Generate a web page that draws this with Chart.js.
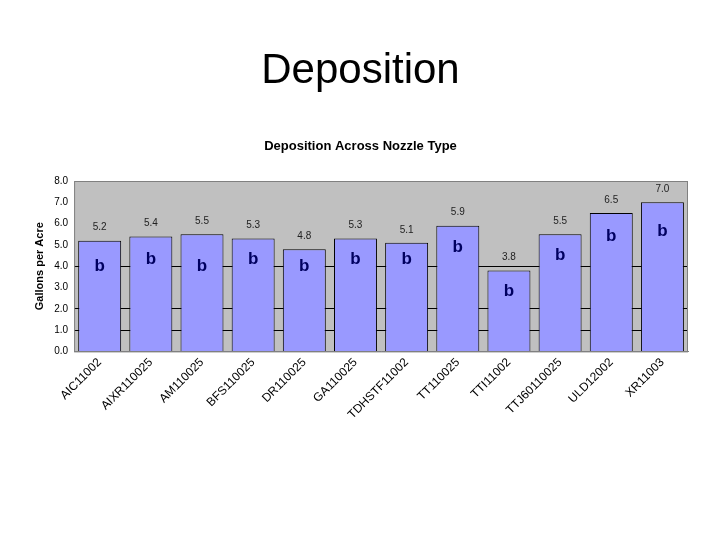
<!DOCTYPE html>
<html>
<head>
<meta charset="utf-8">
<script src="https://cdn.jsdelivr.net/npm/chart.js@4"></script>
<style>
  body { margin: 0; background: #fff; }
  #wrap { width: 720px; height: 540px; }
</style>
</head>
<body>
<div id="wrap"><canvas id="c"></canvas></div>
<script>
// nozzle types and mean deposition
const nozzles = ["AIC11002", "AIXR110025", "AM110025", "BFS110025", "DR110025", "GA110025",
  "TDHSTF11002", "TT110025", "TTI11002", "TTJ60110025", "ULD12002", "XR11003"];
const deposition = [5.2, 5.4, 5.5, 5.3, 4.8, 5.3, 5.1, 5.9, 3.8, 5.5, 6.5, 7.0];
// significance letters and the height (in gallons) they sit at inside the bars
const letters = ["b", "b", "b", "b", "b", "b", "b", "b", "b", "b", "b", "b"];
const letterAt = [4.0, 4.3, 4.0, 4.3, 4.0, 4.3, 4.3, 4.9, 2.8, 4.5, 5.4, 5.65];
const gridAt = [1, 2, 4];

const plotBg = {
  id: "plotBg",
  beforeDraw(chart) {
    const { ctx, chartArea: a } = chart;
    ctx.save();
    ctx.fillStyle = "#c0c0c0";
    ctx.fillRect(a.left, a.top, a.right - a.left, a.bottom - a.top);
    ctx.restore();
  },
  afterDatasetsDraw(chart) {
    const { ctx, chartArea: a } = chart;
    ctx.save();
    ctx.strokeStyle = "#808080";
    ctx.lineWidth = 1;
    ctx.strokeRect(a.left + 0.5, a.top + 0.5, a.right - a.left - 1, a.bottom - a.top);
    ctx.restore();
  }
};

const barText = {
  id: "barText",
  afterDatasetsDraw(chart) {
    const { ctx } = chart;
    const y = chart.scales.y;
    const meta = chart.getDatasetMeta(0);
    ctx.save();
    ctx.textAlign = "center";
    meta.data.forEach((bar, i) => {
      ctx.fillStyle = "#222";
      ctx.font = "10px 'Liberation Sans', Arial, sans-serif";
      ctx.textBaseline = "bottom";
      ctx.fillText(deposition[i].toFixed(1), bar.x, bar.y - 8);
      ctx.fillStyle = "#000060";
      ctx.font = "bold 17px 'Liberation Sans', Arial, sans-serif";
      ctx.textBaseline = "middle";
      ctx.fillText(letters[i], bar.x, y.getPixelForValue(letterAt[i]));
    });
    ctx.restore();
  }
};

new Chart(document.getElementById("c"), {
  type: "bar",
  data: {
    labels: nozzles,
    datasets: [{
      data: deposition,
      backgroundColor: "#9999ff",
      borderColor: "#000000",
      borderWidth: 1,
      barPercentage: 0.84,
      categoryPercentage: 1.0
    }]
  },
  options: {
    responsive: true,
    maintainAspectRatio: false,
    animation: false,
    layout: { padding: { left: 33, right: 32, top: 46, bottom: 114 } },
    plugins: {
      legend: { display: false },
      tooltip: { enabled: false },
      title: {
        display: true,
        text: "Deposition",
        color: "#000",
        font: { family: "'Liberation Sans', Arial, sans-serif", size: 42, weight: "normal" },
        padding: { top: 0, bottom: 42 }
      },
      subtitle: {
        display: true,
        text: "Deposition Across Nozzle Type",
        color: "#000",
        font: { family: "'Liberation Sans', Arial, sans-serif", size: 13, weight: "bold" },
        padding: { top: 0, bottom: 27 }
      }
    },
    scales: {
      x: {
        grid: { display: false, drawTicks: false },
        border: { color: "#808080" },
        ticks: {
          color: "#000",
          minRotation: 45,
          maxRotation: 45,
          padding: 4,
          font: { family: "'Liberation Sans', Arial, sans-serif", size: 12 }
        }
      },
      y: {
        min: 0,
        max: 8,
        grid: {
          drawTicks: false,
          color: ctx => gridAt.includes(ctx.tick && ctx.tick.value) ? "#000" : "rgba(0,0,0,0)"
        },
        border: { display: false },
        title: {
          display: true,
          text: "Gallons per Acre",
          color: "#000",
          font: { family: "'Liberation Sans', Arial, sans-serif", size: 11, weight: "bold" },
          padding: { top: 0, bottom: 2 }
        },
        ticks: {
          stepSize: 1,
          color: "#000",
          padding: 6,
          font: { family: "'Liberation Sans', Arial, sans-serif", size: 10 },
          callback: v => v.toFixed(1)
        }
      }
    }
  },
  plugins: [plotBg, barText]
});
</script>
</body>
</html>
